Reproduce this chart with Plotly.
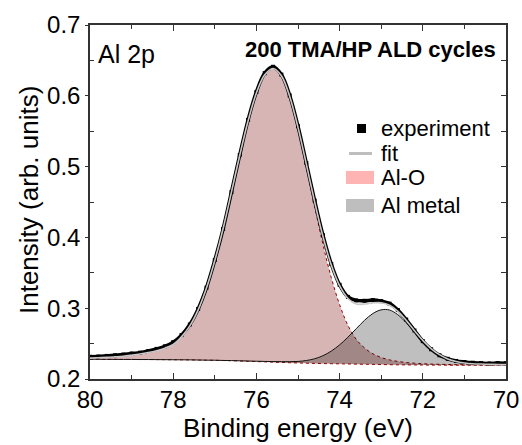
import numpy as np
import plotly.graph_objects as go

# Binding energy grid (eV)
energy = [80.0, 79.8, 79.6, 79.4, 79.2, 79.0, 78.8, 78.6, 78.4, 78.2,
          78.0, 77.8, 77.6, 77.4, 77.2, 77.0, 76.8, 76.6, 76.4, 76.2,
          76.0, 75.8, 75.6, 75.4, 75.2, 75.0, 74.8, 74.6, 74.4, 74.2,
          74.0, 73.8, 73.6, 73.4, 73.2, 73.0, 72.8, 72.6, 72.4, 72.2,
          72.0, 71.8, 71.6, 71.4, 71.2, 71.0, 70.8, 70.6, 70.4, 70.2, 70.0]

# Shirley-type background
background = [0.2278, 0.2278, 0.2277, 0.2277, 0.2276, 0.2276, 0.2275, 0.2275, 0.2274, 0.2273,
              0.2272, 0.2271, 0.2270, 0.2268, 0.2266, 0.2264, 0.2261, 0.2258, 0.2254, 0.2250,
              0.2246, 0.2242, 0.2238, 0.2234, 0.2230, 0.2226, 0.2223, 0.2220, 0.2218, 0.2216,
              0.2214, 0.2212, 0.2210, 0.2208, 0.2206, 0.2204, 0.2202, 0.2200, 0.2199, 0.2198,
              0.2197, 0.2196, 0.2196, 0.2195, 0.2195, 0.2195, 0.2195, 0.2195, 0.2195, 0.2195, 0.2195]

# Al-O component (above background)
al_o = [0.0017, 0.0022, 0.0028, 0.0036, 0.0046, 0.0060, 0.0077, 0.0098, 0.0126, 0.0163,
        0.0215, 0.0324, 0.0480, 0.0708, 0.1018, 0.1408, 0.1864, 0.2379, 0.2904, 0.3391,
        0.3789, 0.4049, 0.4140, 0.4038, 0.3746, 0.3306, 0.2775, 0.2216, 0.1683, 0.1216,
        0.0836, 0.0546, 0.0350, 0.0230, 0.0150, 0.0100, 0.0068, 0.0048, 0.0034, 0.0025,
        0.0019, 0.0015, 0.0012, 0.0010, 0.0008, 0.0007, 0.0006, 0.0005, 0.0004, 0.0004, 0.0003]

# Al metal component (above background)
al_metal = [0.0, 0.0, 0.0, 0.0, 0.0, 0.0, 0.0, 0.0, 0.0, 0.0,
            0.0, 0.0, 0.0, 0.0, 0.0, 0.0001, 0.0001, 0.0002, 0.0003, 0.0004,
            0.0005, 0.0006, 0.0008, 0.0011, 0.0015, 0.0022, 0.0038, 0.0066, 0.0111, 0.0178,
            0.0268, 0.0379, 0.0500, 0.0621, 0.0719, 0.0773, 0.0772, 0.0708, 0.0595, 0.0459,
            0.0330, 0.0219, 0.0136, 0.0079, 0.0044, 0.0025, 0.0015, 0.0011, 0.0008, 0.0006, 0.0005]

# Measured spectrum
experiment = [0.2315, 0.2318, 0.2326, 0.2335, 0.2345, 0.2360, 0.2372, 0.2395, 0.2425, 0.2462,
              0.2520, 0.2620, 0.2770, 0.2990, 0.3290, 0.3680, 0.4120, 0.4640, 0.5165, 0.5660,
              0.6055, 0.6320, 0.6410, 0.6300, 0.6005, 0.5570, 0.5050, 0.4520, 0.4030, 0.3625,
              0.3330, 0.3160, 0.3110, 0.3105, 0.3115, 0.3100, 0.3065, 0.2975, 0.2840, 0.2685,
              0.2535, 0.2420, 0.2335, 0.2285, 0.2255, 0.2240, 0.2230, 0.2225, 0.2220, 0.2225, 0.2222]

x_ticks = [80, 78, 76, 74, 72, 70]
y_ticks = [0.2, 0.3, 0.4, 0.5, 0.6, 0.7]
y_tick_text = ["0.2", "0.3", "0.4", "0.5", "0.6", "0.7"]
legend_labels = ["experiment", "fit", "Al-O", "Al metal"]

E = np.array(energy)
B = np.array(background)
AO = np.array(al_o)
AM = np.array(al_metal)
fit = B + AO + AM

FONT = "Liberation Sans, Arial, sans-serif"
W, H = 522, 445
ML, MR, MT, MB = 90, 16, 25, 66
PW, PH = W - ML - MR, H - MT - MB


def px(x):
    return (x - ML) / PW


def py(y):
    return (H - MB - y) / PH


fig = go.Figure()
fig.add_trace(go.Scatter(x=E, y=B, mode="lines", line=dict(color="rgb(170,0,0)", width=1, dash="dot", shape="spline"),
                         showlegend=False, hoverinfo="skip"))
fig.add_trace(go.Scatter(x=E, y=B + AO, mode="lines", fill="tonexty", fillcolor="rgb(216,181,181)",
                         line=dict(color="rgb(150,0,0)", width=1, dash="dot", shape="spline"),
                         name="Al-O", showlegend=False))
fig.add_trace(go.Scatter(x=E, y=B, mode="lines", line=dict(width=0, shape="spline"),
                         showlegend=False, hoverinfo="skip"))
fig.add_trace(go.Scatter(x=E, y=B + AM, mode="lines", fill="tonexty", fillcolor="rgba(0,0,0,0.25)",
                         line=dict(color="rgb(20,20,20)", width=1, shape="spline"),
                         name="Al metal", showlegend=False))
fig.add_trace(go.Scatter(x=E, y=experiment, mode="lines+markers",
                         line=dict(color="black", width=3.5, shape="spline"),
                         marker=dict(symbol="square", size=4, color="black"),
                         name="experiment", showlegend=False))
fig.add_trace(go.Scatter(x=E, y=fit, mode="lines",
                         line=dict(color="rgb(200,200,200)", width=1.6, shape="spline"),
                         name="fit", showlegend=False))
# invisible trace to carry the right-hand mirror axis
fig.add_trace(go.Scatter(x=E, y=B, yaxis="y2", mode="lines", line=dict(width=0),
                         opacity=0, showlegend=False, hoverinfo="skip"))

# legend (manual, mimicking the original layout)
rows = [128.5, 153.5, 177.5, 205.5]
shapes = [
    dict(type="rect", xref="paper", yref="paper", x0=px(357), x1=px(366), y0=py(rows[0] + 4.5), y1=py(rows[0] - 4.5),
         fillcolor="black", line=dict(width=0)),
    dict(type="line", xref="paper", yref="paper", x0=px(349), x1=px(372), y0=py(rows[1]), y1=py(rows[1]),
         line=dict(color="rgb(190,190,190)", width=3)),
    dict(type="rect", xref="paper", yref="paper", x0=px(346), x1=px(374), y0=py(rows[2] + 6.5), y1=py(rows[2] - 6.5),
         fillcolor="rgb(255,180,180)", line=dict(width=0)),
    dict(type="rect", xref="paper", yref="paper", x0=px(346), x1=px(374), y0=py(rows[3] + 6.5), y1=py(rows[3] - 6.5),
         fillcolor="rgb(190,190,190)", line=dict(width=0)),
]
annotations = [
    dict(text=lab, xref="paper", yref="paper", x=px(379), y=py(r), xanchor="left", yanchor="middle",
         showarrow=False, font=dict(family=FONT, size=22, color="black"))
    for lab, r in zip(legend_labels, rows)
]
annotations.append(dict(text="Al 2p", xref="paper", yref="paper", x=px(96), y=py(54), xanchor="left",
                        yanchor="middle", showarrow=False, font=dict(family=FONT, size=25, color="black")))
annotations.append(dict(text="<b>200 TMA/HP ALD cycles</b>", xref="paper", yref="paper", x=px(498), y=py(50),
                        xanchor="right", yanchor="middle", showarrow=False,
                        font=dict(family=FONT, size=22, color="black")))
# y-axis title placed as a rotated label
annotations.append(dict(text="Intensity (arb. units)", xref="paper", yref="paper", x=px(29), y=py(200),
                        xanchor="center", yanchor="middle", textangle=-90, showarrow=False,
                        font=dict(family=FONT, size=26, color="black")))

fig.update_layout(
    width=W, height=H,
    margin=dict(l=ML, r=MR, t=MT, b=MB, autoexpand=False),
    paper_bgcolor="white", plot_bgcolor="white",
    font=dict(family=FONT, size=22, color="black"),
    shapes=shapes, annotations=annotations,
    showlegend=False,
    xaxis=dict(range=[80, 70], tickvals=x_ticks, ticktext=[str(t) for t in x_ticks],
               ticks="inside", ticklen=6, tickwidth=1.3, tickcolor="#333",
               minor=dict(tickvals=[79, 77, 75, 73, 71], ticks="inside", ticklen=4, tickwidth=1.3, tickcolor="#333"),
               showline=True, linecolor="#333", linewidth=1.5, mirror="ticks",
               showgrid=False, zeroline=False, automargin=False,
               tickfont=dict(family=FONT, size=24), ticklabelstandoff=-2,
               title=dict(text="Binding energy (eV)", font=dict(family=FONT, size=26), standoff=6)),
    yaxis=dict(range=[0.2, 0.7], tickvals=y_ticks, ticktext=y_tick_text,
               ticks="outside", ticklen=3, tickwidth=1.3, tickcolor="#333",
               minor=dict(tickvals=[0.25, 0.35, 0.45, 0.55, 0.65], ticks="inside", ticklen=4, tickwidth=1.3,
                          tickcolor="#333"),
               showline=True, linecolor="#333", linewidth=1.5,
               showgrid=False, zeroline=False, automargin=False,
               tickfont=dict(family=FONT, size=24)),
    yaxis2=dict(range=[0.2, 0.7], overlaying="y", side="right",
                tickvals=[0.2, 0.25, 0.3, 0.35, 0.4, 0.45, 0.5, 0.55, 0.6, 0.65, 0.7],
                ticks="inside", ticklen=5, tickwidth=1.3, tickcolor="#333", showticklabels=False,
                showline=True, linecolor="#333", linewidth=1.5, showgrid=False, zeroline=False,
                automargin=False),
)

fig.write_html("out.html", config={"displayModeBar": False},
               post_script="document.body.style.margin='0px';")
